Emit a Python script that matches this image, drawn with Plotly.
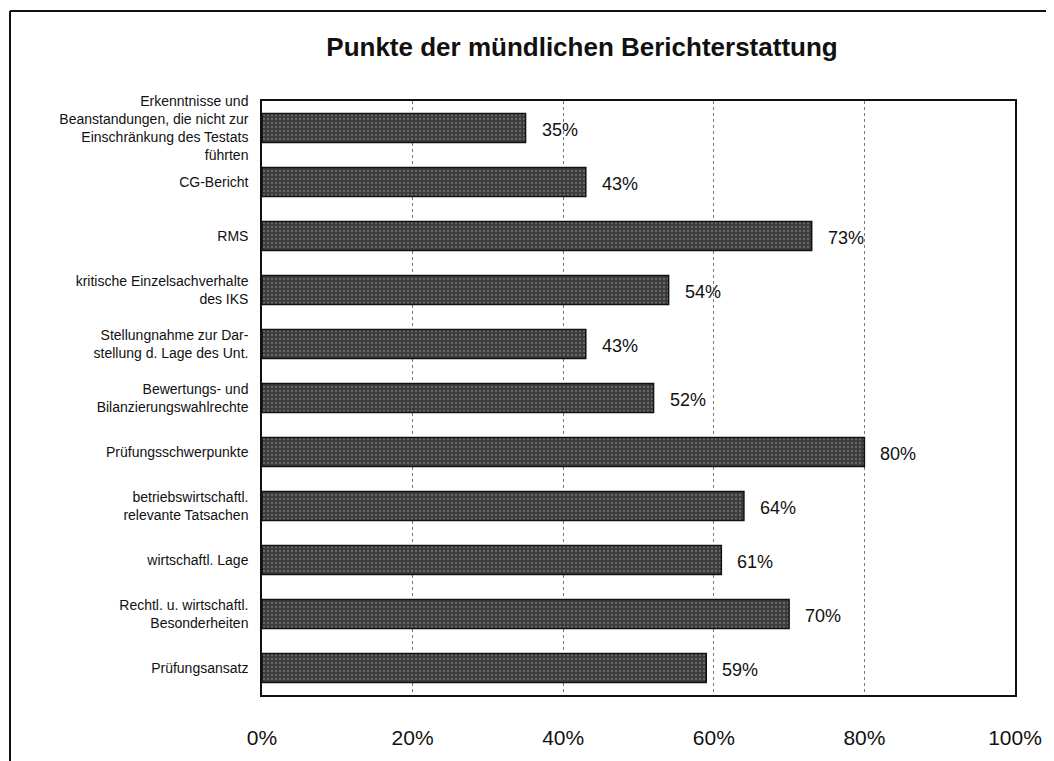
import plotly.graph_objects as go

categories = [
    "Erkenntnisse und<br>Beanstandungen, die nicht zur<br>Einschränkung des Testats<br>führten",
    "CG-Bericht",
    "RMS",
    "kritische Einzelsachverhalte<br>des IKS",
    "Stellungnahme zur Dar-<br>stellung d. Lage des Unt.",
    "Bewertungs- und<br>Bilanzierungswahlrechte",
    "Prüfungsschwerpunkte",
    "betriebswirtschaftl.<br>relevante Tatsachen",
    "wirtschaftl. Lage",
    "Rechtl. u. wirtschaftl.<br>Besonderheiten",
    "Prüfungsansatz",
]
values = [0.35, 0.43, 0.73, 0.54, 0.43, 0.52, 0.80, 0.64, 0.61, 0.70, 0.59]
tick_vals = [0, 0.2, 0.4, 0.6, 0.8, 1.0]
tick_text = ["0%", "20%", "40%", "60%", "80%", "100%"]
title_text = "Punkte der mündlichen Berichterstattung"

FONT = "Liberation Sans, Arial, sans-serif"

# page body offset (8px default margin) is subtracted from the target pixel positions
OFF = 8
W, H = 1054 - OFF, 761 - OFF
L, R, T, B = 262 - OFF, 1015 - OFF, 101 - OFF, 695 - OFF

fig = go.Figure()
fig.add_trace(go.Bar(
    x=values,
    y=categories,
    orientation="h",
    marker=dict(
        color="#4a4a4a",
        line=dict(color="#111111", width=1.5),
        pattern=dict(shape=".", fgcolor="#9a9a9a", bgcolor="#3c3c3c", size=4, solidity=0.25),
    ),
    width=0.54,
    hoverinfo="skip",
))

annotations = []
for c, v in zip(categories, values):
    annotations.append(dict(
        x=v, y=c, xref="x", yref="y",
        text=f"{round(v * 100)}%",
        showarrow=False, xanchor="left", yanchor="middle",
        xshift=14, yshift=-2,
        font=dict(family=FONT, size=18, color="#111111"),
    ))

def px_x(p):
    return (p - OFF - L) / (R - L)

def px_y(p):
    return (B - (p - OFF)) / (B - T)

shapes = [
    dict(type="line", xref="paper", yref="paper",
         x0=px_x(10), x1=px_x(1054), y0=px_y(11), y1=px_y(11),
         line=dict(color="#111111", width=2)),
    dict(type="line", xref="paper", yref="paper",
         x0=px_x(10), x1=px_x(10), y0=px_y(11), y1=px_y(761),
         line=dict(color="#111111", width=2)),
]

fig.update_layout(
    width=W, height=H,
    margin=dict(l=L, r=W - R, t=T, b=H - B, pad=0, autoexpand=False),
    paper_bgcolor="white",
    plot_bgcolor="white",
    showlegend=False,
    title=dict(text="<b>" + title_text + "</b>", x=(582 - OFF) / W, xanchor="center",
               y=1 - (47 - OFF) / H, yanchor="middle",
               font=dict(family=FONT, size=26, color="#111111")),
    font=dict(family=FONT, color="#111111"),
    xaxis=dict(
        range=[0, 1], tickvals=tick_vals, ticktext=tick_text, automargin=False,
        showgrid=True, gridcolor="#777777", griddash="dot", gridwidth=1,
        zeroline=False, showline=True, linecolor="#111111", linewidth=1.5, mirror=True,
        ticks="", tickfont=dict(family=FONT, size=21, color="#111111"),
        ticklabelstandoff=23,
    ),
    yaxis=dict(
        autorange="reversed", showgrid=False, zeroline=False, automargin=False,
        showline=True, linecolor="#111111", linewidth=1.5, mirror=True,
        ticks="", ticklabelstandoff=9,
        tickfont=dict(family=FONT, size=14, color="#111111"),
    ),
    annotations=annotations,
    shapes=shapes,
)

fig.write_html("out.html")
